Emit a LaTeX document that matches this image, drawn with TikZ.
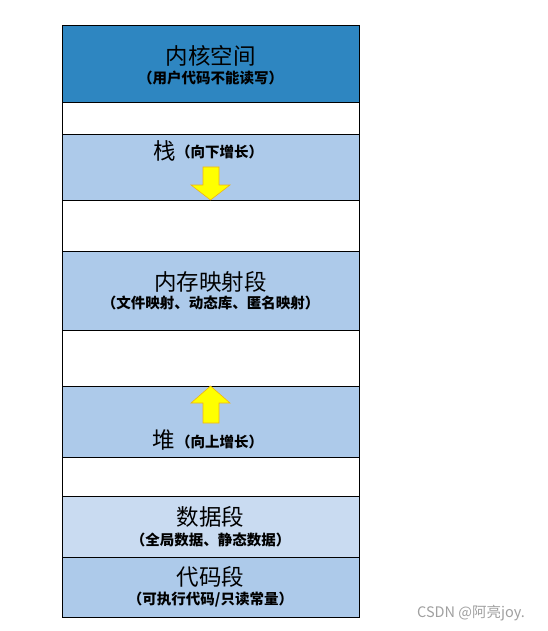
\documentclass[tikz,border=0pt]{standalone}
\usepackage{fontspec}
\newfontfamily\cjk{Noto Sans CJK SC}
\definecolor{kern}{RGB}{46,134,193}
\definecolor{seg}{RGB}{173,202,234}
\definecolor{dataseg}{RGB}{201,219,241}
\definecolor{arrowfill}{RGB}{255,255,0}
\definecolor{arrowline}{RGB}{240,180,20}
\definecolor{wm}{RGB}{160,160,160}
\tikzset{
  row/.style={draw=black, line width=0.9pt, anchor=north west, minimum width=297pt, inner sep=0pt, outer sep=0pt},
  ttl/.style={font=\cjk\fontsize{22.5}{23}\selectfont, inner sep=0pt, text=black},
  sub/.style={font=\cjk\bfseries\fontsize{14.5}{15}\selectfont, inner sep=0pt, text=black},
  growarrow/.style={fill=arrowfill, draw=arrowline, line width=0.6pt},
}
\begin{document}
\begin{tikzpicture}[x=1pt,y=-1pt]
\useasboundingbox (0,0) rectangle (548,631);
\fill[white] (0,0) rectangle (548,631);
\node[row, fill=kern, minimum height=77pt] (kernel) at (62,25) {};
\node[row, fill=white, minimum height=32pt] (gapa) at (62,102) {};
\node[row, fill=seg, minimum height=66pt] (stack) at (62,134) {};
\node[row, fill=white, minimum height=51pt] (gapb) at (62,200) {};
\node[row, fill=seg, minimum height=79pt] (mmap) at (62,251) {};
\node[row, fill=white, minimum height=56pt] (gapc) at (62,330) {};
\node[row, fill=seg, minimum height=71pt] (heap) at (62,386) {};
\node[row, fill=white, minimum height=39pt] (gapd) at (62,457) {};
\node[row, fill=dataseg, minimum height=61pt] (data) at (62,496) {};
\node[row, fill=seg, minimum height=60pt] (code) at (62,557) {};
% texts
\node[ttl] (kt) at (210.5,56) {内核空间};
\node[sub] (ks) at (210.5,78) {（用户代码不能读写）};
\node[ttl] (st) at (165,151) {栈};
\node[sub, anchor=west] (ss) at (176,152) {（向下增长）};
\node[ttl] (mt) at (210.5,282) {内存映射段};
\node[sub] (ms) at (210.5,303) {（文件映射、动态库、匿名映射）};
\node[ttl] (ht) at (164,440) {堆};
\node[sub, anchor=west] (hs) at (176,442) {（向上增长）};
\node[ttl] (dt) at (210.5,517) {数据段};
\node[sub] (ds) at (210.5,540) {（全局数据、静态数据）};
\node[ttl] (ct) at (210.5,577) {代码段};
\node[sub] (cs) at (210.5,600) {（可执行代码/只读常量）};
% growth arrows
\draw[growarrow] (203,167) -- (219,167) -- (219,185) -- (230,185) -- (210.5,200) -- (191,185) -- (203,185) -- cycle;
\draw[growarrow] (210.5,386) -- (230,403) -- (219,403) -- (219,423) -- (203,423) -- (203,403) -- (191,403) -- cycle;
% watermark
\node[font=\cjk\fontsize{14.5}{15}\selectfont, text=wm, inner sep=0pt, anchor=west] (wmk) at (417,613) {CSDN @阿亮joy.};
\end{tikzpicture}
\end{document}
